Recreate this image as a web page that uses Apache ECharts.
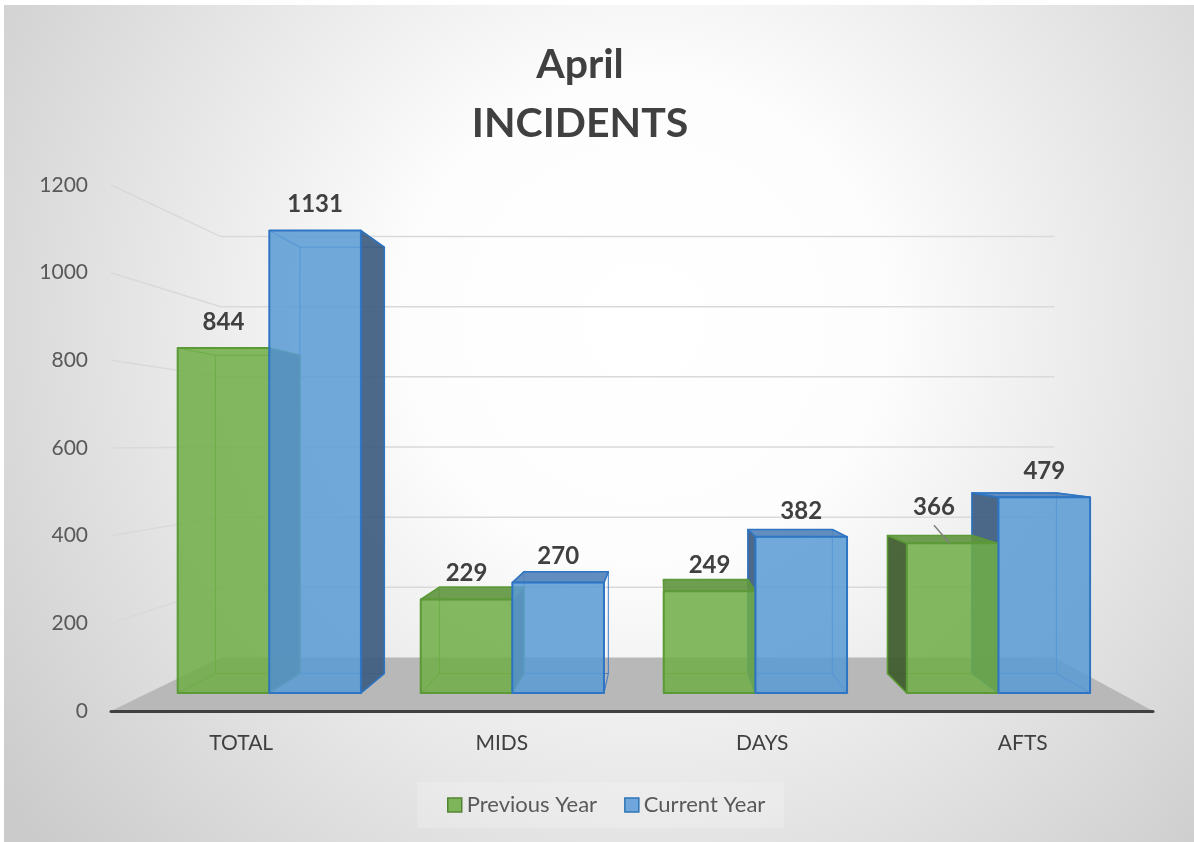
<!DOCTYPE html>
<html>
<head>
<meta charset="utf-8">
<script src="https://cdn.jsdelivr.net/npm/echarts@6/dist/echarts.min.js"></script>
<style>
html,body{margin:0;padding:0;background:#fff;}
#main{width:1194px;height:842px;}
</style>
</head>
<body>
<div id="main"></div>
<script>
var categories = ['TOTAL', 'MIDS', 'DAYS', 'AFTS'];
var previousYear = [844, 229, 249, 366];
var currentYear = [1131, 270, 382, 479];
var yTicks = [0, 200, 400, 600, 800, 1000, 1200];

var FONT = 'Lato, "Open Sans", sans-serif';

// fake 3d: vanishing point and depth of each plane (floor front edge = 1)
var VX = 660, VY = 443;
var K_FRONT = 0.933, K_BACK = 0.86, K_WALL = 0.8;

function proj(x, y, k) {
  return [VX + k * (x - VX), VY + k * (y - VY)];
}

var palette = [
  { face: 'rgba(112,173,71,0.86)', edge: '#5b9a37', side: 'rgba(60,90,42,0.92)', top: 'rgba(98,150,64,0.92)' },
  { face: 'rgba(91,155,213,0.86)', edge: '#2e75c4', side: 'rgba(62,92,128,0.92)', top: 'rgba(84,132,186,0.92)' }
];

// floor + walls, one item per tick
function renderWalls(params, api) {
  var t = api.value(1);
  var cs = params.coordSys;
  var y = api.coord([0, t])[1];
  var x0 = cs.x, x1 = cs.x + cs.width;
  if (t === 0) {
    return {
      type: 'polygon',
      shape: { points: [[x0, y], [x1, y], proj(x1, y, K_WALL), proj(x0, y, K_WALL)] },
      style: { fill: '#b8b8b8' }
    };
  }
  return {
    type: 'polyline',
    shape: { points: [[x0, y], proj(x0, y, K_WALL), proj(x1, y, K_WALL)] },
    style: { stroke: '#d9d9d9', lineWidth: 1.5, fill: null }
  };
}

function makeBar(s) {
  return function (params, api) {
    var i = api.value(0), v = api.value(1);
    var base = api.coord([i, 0]);
    var tp = api.coord([i, v]);
    var band = api.size([1, 0])[0];
    var w = band * 0.377;
    var xl = s === 0 ? base[0] - w : base[0];
    var xr = xl + w;
    var yb = base[1], yt = tp[1];
    var c = palette[s];

    var fTL = proj(xl, yt, K_FRONT), fTR = proj(xr, yt, K_FRONT);
    var fBL = proj(xl, yb, K_FRONT), fBR = proj(xr, yb, K_FRONT);
    var bTL = proj(xl, yt, K_BACK), bTR = proj(xr, yt, K_BACK);
    var bBL = proj(xl, yb, K_BACK), bBR = proj(xr, yb, K_BACK);

    var kids = [];
    function poly(pts, style, z2) {
      style.lineJoin = 'round';
      kids.push({ type: 'polygon', shape: { points: pts }, style: style, z2: z2 });
    }
    function seg(a, b, z2) {
      kids.push({ type: 'line', shape: { x1: a[0], y1: a[1], x2: b[0], y2: b[1] },
        style: { stroke: c.edge, lineWidth: 1.2, opacity: 0.8 }, z2: z2 });
    }

    // back face and hidden edges
    poly([bTL, bTR, bBR, bBL], { fill: null, stroke: c.edge, lineWidth: 1.2, opacity: 0.8 }, 1);
    seg(bTL, fTL, 1); seg(bTR, fTR, 1); seg(bBL, fBL, 1); seg(bBR, fBR, 1);

    // visible side (skip slivers)
    if (fTL[0] - bTL[0] > 6) {
      poly([bTL, fTL, fBL, bBL], { fill: c.side, stroke: c.edge, lineWidth: 1.5 }, 2);
    }
    if (bTR[0] - fTR[0] > 6) {
      poly([fTR, bTR, bBR, fBR], { fill: c.side, stroke: c.edge, lineWidth: 1.5 }, 2);
    }
    // top seen from above
    if (bTL[1] < fTL[1]) {
      poly([bTL, bTR, fTR, fTL], { fill: c.top, stroke: c.edge, lineWidth: 1.5 }, 3);
    }

    // front face
    poly([fTL, fTR, fBR, fBL], { fill: c.face, stroke: c.edge, lineWidth: 2 }, 10);

    // value label
    var lx = (fTL[0] + fTR[0]) / 2;
    var ly = fTL[1] - 26;
    if (s === 0) {
      var nb = proj(base[0], yt, K_BACK)[0];
      if (lx + 20 > nb) {
        var nx = nb - 38, ny = ly - 10;
        kids.push({ type: 'line', shape: { x1: nx, y1: ny + 18, x2: lx - 3, y2: fTL[1] },
          style: { stroke: '#7f7f7f', lineWidth: 1.5 }, z2: 20 });
        lx = nx; ly = ny;
      }
    }
    kids.push({ type: 'text', x: lx, y: ly, z2: 21,
      style: { text: String(v), fill: '#404040', font: 'bold 24px ' + FONT, align: 'center', verticalAlign: 'middle' } });

    return { type: 'group', children: kids };
  };
}

var chart = echarts.init(document.getElementById('main'));

chart.setOption({
  backgroundColor: {
    type: 'radial', x: 0.54, y: 0.38, r: 0.95,
    colorStops: [
      { offset: 0, color: '#ffffff' },
      { offset: 0.3, color: '#fdfdfd' },
      { offset: 1, color: '#cbcbcb' }
    ]
  },
  animation: false,
  graphic: [
    { type: 'rect', shape: { x: 0, y: 0, width: 1194, height: 5 }, style: { fill: '#fff' } },
    { type: 'rect', shape: { x: 0, y: 0, width: 4, height: 842 }, style: { fill: '#fff' } }
  ],
  title: {
    text: 'April\nINCIDENTS',
    left: 575,
    top: 30,
    textAlign: 'center',
    textStyle: { fontFamily: FONT, fontWeight: 'bold', fontSize: 41, lineHeight: 59, color: '#404040' }
  },
  legend: {
    left: 417,
    top: 782,
    padding: [12, 19, 12, 30],
    backgroundColor: 'rgba(255,255,255,0.2)',
    itemWidth: 14,
    itemHeight: 14,
    itemGap: 27,
    icon: 'rect',
    textStyle: { fontFamily: FONT, fontSize: 22, color: '#595959' },
    data: [
      { name: 'Previous Year', itemStyle: { color: '#7fb55a', borderColor: '#548235', borderWidth: 1.5 } },
      { name: 'Current Year', itemStyle: { color: '#6fa6db', borderColor: '#2e75b6', borderWidth: 1.5 } }
    ]
  },
  grid: { left: 111, right: 41, top: 185, bottom: 131 },
  xAxis: {
    type: 'category',
    data: categories,
    z: 10,
    axisLine: { lineStyle: { color: '#404040', width: 3 } },
    axisTick: { show: false },
    axisLabel: { margin: 22, fontFamily: FONT, fontSize: 21, color: '#404040' }
  },
  yAxis: {
    type: 'value',
    min: 0,
    max: 1200,
    interval: 200,
    splitLine: { show: false },
    axisLine: { show: false },
    axisLabel: { margin: 23, fontFamily: FONT, fontSize: 21, color: '#595959',
      formatter: function (v) { return String(v); } }
  },
  series: [
    {
      type: 'custom',
      name: 'walls',
      z: 1,
      silent: true,
      renderItem: renderWalls,
      encode: { x: 0, y: 1 },
      data: yTicks.map(function (t) { return [0, t]; })
    },
    {
      type: 'custom',
      name: 'Previous Year',
      z: 2,
      itemStyle: { color: '#70ad47' },
      renderItem: makeBar(0),
      encode: { x: 0, y: 1 },
      data: previousYear.map(function (v, i) { return [i, v]; })
    },
    {
      type: 'custom',
      name: 'Current Year',
      z: 2,
      itemStyle: { color: '#5b9bd5' },
      renderItem: makeBar(1),
      encode: { x: 0, y: 1 },
      data: currentYear.map(function (v, i) { return [i, v]; })
    }
  ]
});
</script>
</body>
</html>
